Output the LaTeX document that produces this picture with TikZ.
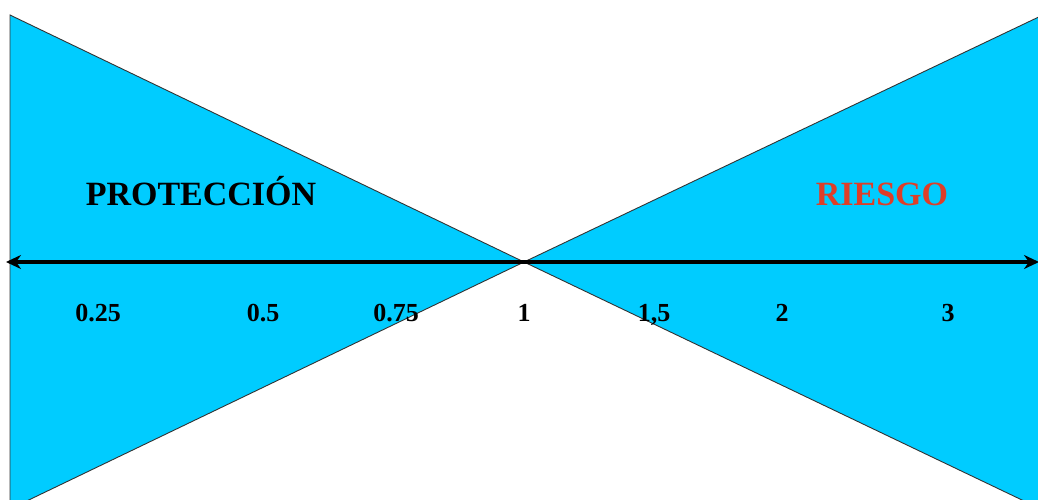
\documentclass[tikz,border=0pt]{standalone}
\usepackage{fontspec}
\setmainfont{Liberation Serif}
\usetikzlibrary{arrows.meta}
\definecolor{fillcyan}{RGB}{0,204,255}
\definecolor{riskred}{RGB}{222,62,40}
\tikzset{
  wedge/.style={fill=fillcyan, draw=black!80, line width=0.9pt, line join=miter},
  axisline/.style={line width=3.5pt, {Stealth[length=15pt,width=14pt]}-{Stealth[length=15pt,width=14pt]}},
  tick/.style={font=\bfseries\fontsize{26}{28}\selectfont, text=black, inner sep=0pt, anchor=base},
  title/.style={font=\bfseries\fontsize{34}{38}\selectfont, inner sep=0pt, anchor=base}
}
\begin{document}
\begin{tikzpicture}[x=1pt,y=-1pt]
\useasboundingbox (0,0) rectangle (1038,500);
\begin{scope}
\clip (0,0) rectangle (1038,500);
\coordinate (apex) at (524,262);
\coordinate (ltop) at (10,15);
\coordinate (lbot) at (10,509);
\coordinate (rtop) at (1038,17);
\coordinate (rbot) at (1038,507);
\coordinate (rtopx) at (1045,14);
\coordinate (rbotx) at (1045,511);
\draw[wedge] (ltop) -- (apex) -- (lbot) -- cycle;
\draw[wedge] (apex) -- (rtopx) -- (rbotx) -- cycle;
\end{scope}
\coordinate (axL) at (6,262);
\coordinate (axR) at (1039,262);
\draw[axisline] (axL) -- (axR);
\node[title, text=black] (prot) at (201,205) {PROTECCIÓN};
\node[title, text=riskred] (risk) at (882,205) {RIESGO};
\node[tick] (t1) at (98,321) {0.25};
\node[tick] (t2) at (263,321) {0.5};
\node[tick] (t3) at (396,321) {0.75};
\node[tick] (t4) at (524,321) {1};
\node[tick] (t5) at (654,321) {1,5};
\node[tick] (t6) at (782,321) {2};
\node[tick] (t7) at (948,321) {3};
\end{tikzpicture}
\end{document}
